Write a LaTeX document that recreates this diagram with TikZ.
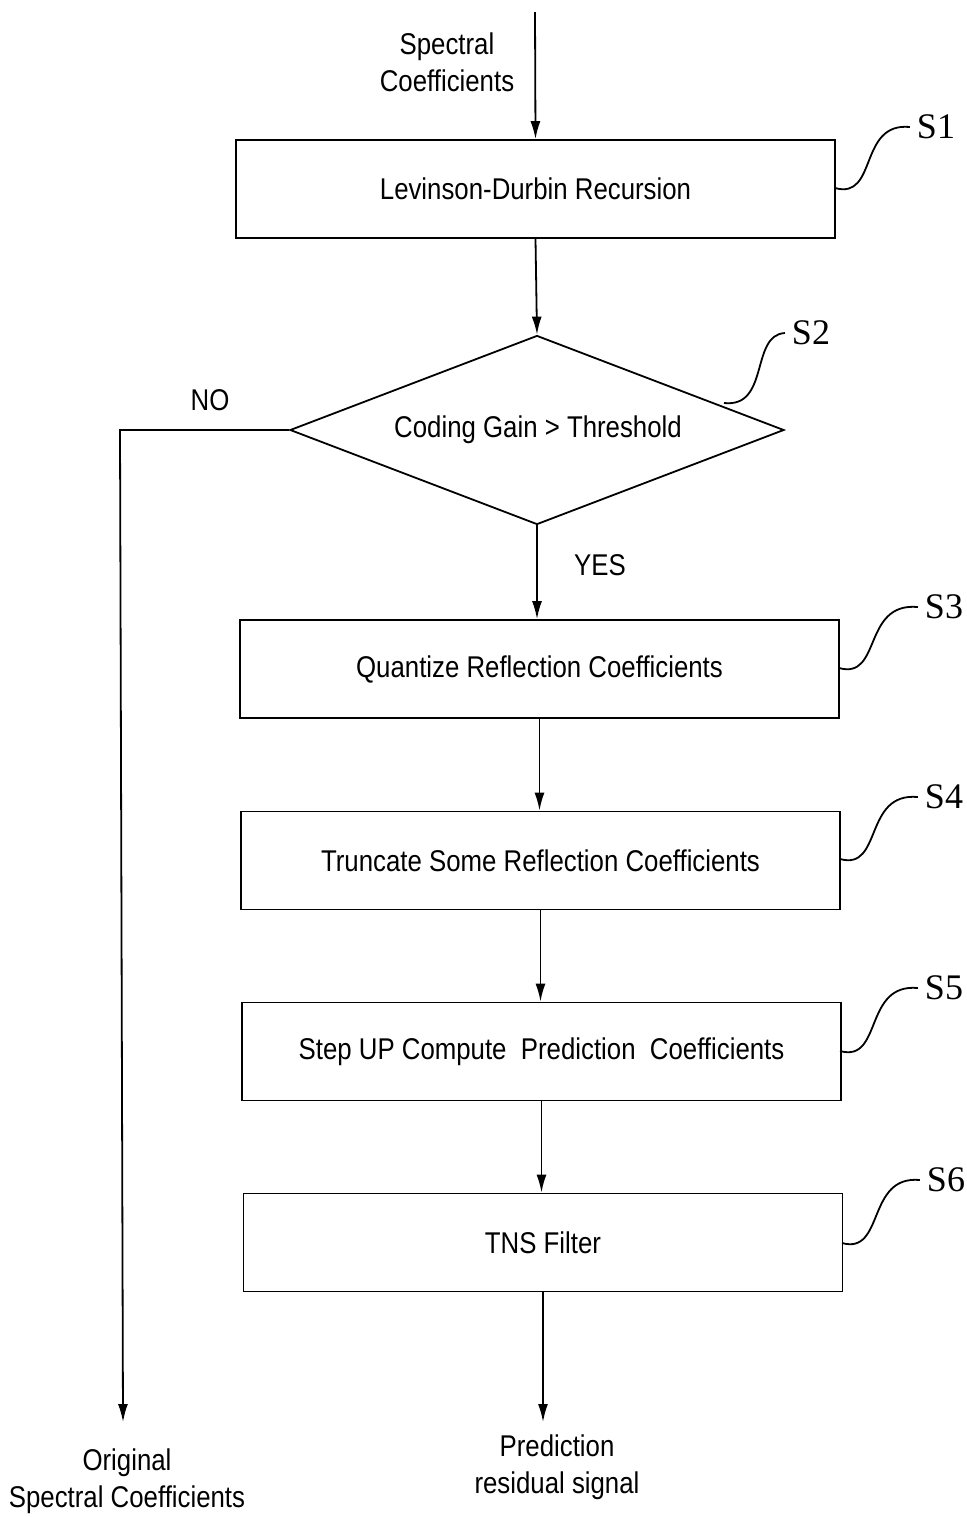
\documentclass[tikz,border=0pt]{standalone}
\usepackage{fontspec}
\setmainfont{Liberation Sans}[FakeStretch=0.86]
\newfontfamily\slabfont{Liberation Serif}
\usetikzlibrary{arrows.meta,shapes.geometric}
\begin{document}
\begin{tikzpicture}[x=0.5pt,y=-0.5pt,
  every node/.style={font=\fontsize{15}{18.5}\selectfont},
  stepbox/.style={draw,line width=0.9pt,minimum width=299.5pt,minimum height=49pt,inner sep=0pt},
  decision/.style={draw,diamond,line width=0.9pt,minimum width=247pt,minimum height=94.5pt,inner sep=0pt},
  flow/.style={line width=0.9pt,-{Latex[length=9pt,width=5pt]}},
  squig/.style={line width=0.9pt},
  slab/.style={font=\slabfont\fontsize{18}{20}\selectfont},
  lab/.style={align=center}]
\useasboundingbox (0,0) rectangle (966,1517);
\node[stepbox] (s1) at (535.5,189) {Levinson-Durbin Recursion};
\node[decision] (s2) at (537,430) {};
\node (s2t) at (538,430) {Coding Gain > Threshold};
\node[stepbox] (s3) at (539.5,669) {Quantize Reflection Coefficients};
\node[stepbox] (s4) at (540.5,860.5) {Truncate Some Reflection Coefficients};
\node[stepbox] (s5) at (541.5,1051.5) {Step UP Compute\ \ Prediction\ \ Coefficients};
\node[stepbox] (s6) at (543,1242.5) {TNS Filter};
\coordinate (in) at (535,12);
\coordinate (noturn) at (120,430);
\coordinate (noend) at (123,1422);
\coordinate (outend) at (543,1422);
\node[lab] (tin) at (447,62) {Spectral\\Coefficients};
\node (tno) at (210,400) {NO};
\node (tyes) at (600,565) {YES};
\node[lab] (torig) at (127,1481) {Original\\Spectral Coefficients};
\node[lab] (tpred) at (557,1467) {Prediction\\residual signal};
\draw[flow] (in) -- (s1.north);
\draw[flow] (s1.south) -- (s2.north);
\draw[flow] (s2.south) -- (s2.south |- s3.north);
\draw[flow] (s3.south) -- (s3.south |- s4.north);
\draw[flow] (s4.south) -- (s4.south |- s5.north);
\draw[flow] (s5.south) -- (s5.south |- s6.north);
\draw[flow] (s6.south) -- (outend);
\draw[flow] (s2.west) -- (noturn) -- (noend);
\node[slab] (l1) at (936,127) {S1};
\node[slab] (l2) at (811,333) {S2};
\node[slab] (l3) at (944,607) {S3};
\node[slab] (l4) at (944,797) {S4};
\node[slab] (l5) at (944,988) {S5};
\node[slab] (l6) at (946,1180) {S6};
\draw[squig] (835,188) .. controls (878,200) and (858,122) .. (l1.west);
\draw[squig] (724,403) .. controls (770,408) and (750,335) .. (l2.west);
\draw[squig] (839,668) .. controls (882,680) and (862,602) .. (l3.west);
\draw[squig] (840,859) .. controls (883,871) and (863,792) .. (l4.west);
\draw[squig] (840,1051) .. controls (883,1063) and (863,983) .. (l5.west);
\draw[squig] (842,1243) .. controls (885,1255) and (866,1175) .. (l6.west);
\end{tikzpicture}
\end{document}
